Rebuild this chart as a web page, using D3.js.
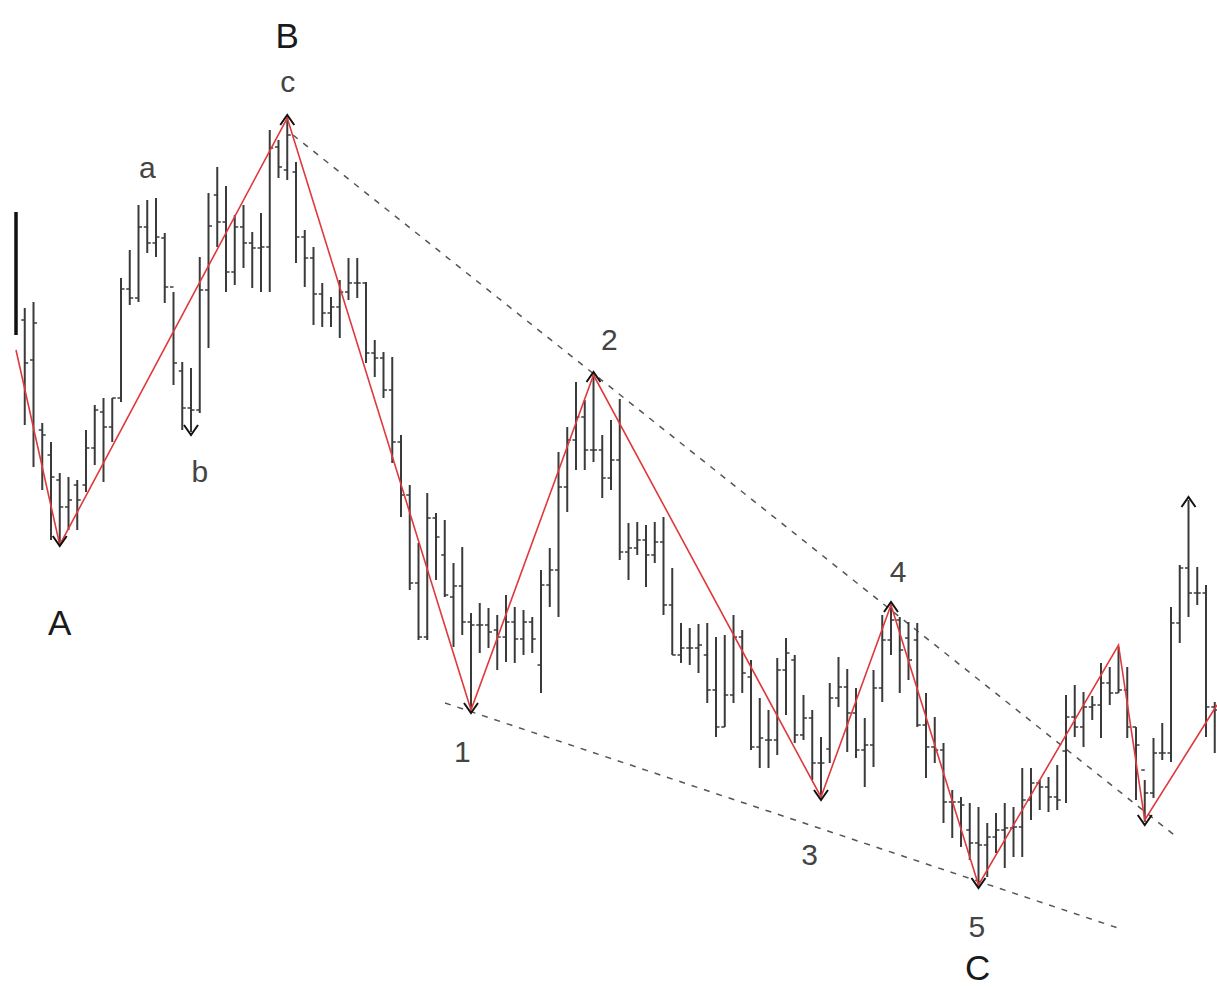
<!DOCTYPE html>
<html>
<head>
<meta charset="utf-8">
<script src="https://cdn.jsdelivr.net/npm/d3@7"></script>
<style>
  html, body { margin: 0; padding: 0; background: #fff; }
  svg { display: block; }
</style>
</head>
<body>
<div id="chart"></div>
<script>
// ---- Data (price units) ----
const barIndex = d3.range(138);

const highs = [
  78.8, 69.2, 69.8, 57.7, 55.8, 52.7, 52.3, 52.0, 57.0, 59.5,
  60.2, 60.2, 72.2, 75.0, 79.5, 80.0, 80.2, 76.7, 70.8, 63.8,
  63.2, 74.3, 80.7, 83.3, 81.4, 78.5, 79.5, 76.8, 78.7, 87.0,
  86.0, 88.2, 83.8, 77.0, 75.3, 71.7, 70.3, 72.0, 74.2, 74.2,
  71.8, 66.0, 64.8, 64.3, 56.5, 51.5, 45.7, 50.7, 48.7, 48.0,
  43.7, 45.3, 38.7, 39.7, 39.2, 38.5, 40.5, 39.3, 39.0, 38.3,
  43.0, 45.2, 54.8, 57.3, 61.8, 60.0, 62.5, 56.5, 58.0, 60.1,
  47.7, 47.8, 47.5, 47.8, 48.3, 43.2, 37.7, 37.2, 37.6, 37.7,
  36.3, 36.5, 38.5, 37.0, 34.0, 30.2, 29.0, 34.2, 36.2, 34.5,
  30.5, 29.0, 26.3, 31.7, 34.3, 33.1, 31.2, 28.2, 33.0, 38.5,
  39.5, 38.3, 37.8, 37.7, 30.7, 28.3, 25.7, 21.0, 20.3, 19.7,
  19.3, 17.7, 18.7, 19.7, 19.3, 23.2, 23.2, 22.0, 22.3, 23.5,
  30.5, 31.5, 30.8, 30.4, 33.7, 33.3, 35.3, 33.3, 27.3, 22.0,
  26.2, 27.7, 39.3, 43.5, 50.0, 43.3, 41.5, 29.8
];

const lows = [
  66.5, 57.5, 53.3, 51.0, 46.0, 45.7, 47.0, 47.0, 50.8, 53.5,
  51.8, 55.8, 59.8, 69.5, 69.8, 74.7, 74.3, 69.7, 61.5, 57.0,
  56.8, 58.7, 65.2, 75.3, 70.8, 71.5, 73.2, 71.2, 70.8, 70.8,
  82.2, 82.0, 73.7, 71.3, 67.5, 67.3, 67.3, 66.2, 70.0, 70.2,
  63.7, 62.3, 60.2, 53.7, 48.3, 41.0, 36.0, 36.0, 42.0, 40.3,
  35.3, 36.5, 29.0, 34.7, 35.2, 33.0, 33.8, 33.7, 34.5, 34.7,
  30.7, 39.3, 38.3, 48.8, 53.0, 53.0, 53.8, 50.2, 51.0, 44.0,
  42.0, 44.5, 41.3, 43.7, 38.5, 34.5, 33.7, 33.5, 32.7, 29.7,
  26.3, 27.3, 29.7, 30.7, 25.0, 23.2, 23.2, 24.5, 28.5, 25.7,
  26.0, 22.0, 20.3, 23.7, 29.3, 24.8, 24.2, 21.3, 23.3, 29.8,
  34.5, 30.7, 32.0, 27.3, 22.2, 23.7, 17.7, 16.2, 15.3, 14.0,
  11.5, 12.3, 14.7, 13.2, 14.3, 14.3, 18.0, 19.0, 18.8, 19.0,
  19.7, 26.3, 25.3, 28.0, 26.2, 29.5, 30.7, 26.2, 20.0, 17.8,
  20.2, 24.0, 23.8, 35.7, 38.3, 39.5, 26.3, 24.7
];

const opens = [
  78.8, 68.0, 64.0, 57.0, 54.5, 52.0, 49.3, 51.5, 51.5, 55.2,
  58.8, 57.3, 60.2, 71.1, 70.2, 77.3, 75.7, 76.2, 71.3, 62.9,
  59.2, 59.0, 71.0, 80.5, 77.8, 72.8, 77.3, 75.7, 75.2, 75.3,
  85.3, 83.0, 82.8, 76.3, 74.2, 70.6, 68.7, 69.3, 70.8, 71.7,
  71.7, 64.7, 64.2, 61.0, 55.8, 50.5, 41.7, 36.3, 48.2, 44.5,
  40.3, 41.4, 37.8, 37.5, 37.5, 37.0, 36.3, 37.8, 36.1, 37.8,
  33.5, 41.5, 43.0, 51.3, 56.0, 58.3, 55.0, 55.0, 52.2, 54.0,
  44.8, 45.2, 46.0, 44.5, 45.8, 39.5, 34.5, 35.2, 35.2, 34.5,
  31.0, 27.3, 30.5, 36.3, 32.3, 25.3, 26.0, 26.0, 33.0, 34.0,
  26.5, 28.2, 23.7, 25.1, 30.2, 31.3, 28.7, 25.0, 25.5, 31.2,
  36.0, 38.0, 36.2, 36.0, 27.5, 25.3, 25.0, 19.8, 19.8, 17.0,
  15.7, 15.5, 16.3, 17.0, 17.2, 17.3, 20.0, 21.7, 21.3, 20.3,
  24.9, 28.3, 27.3, 29.3, 29.5, 31.7, 30.7, 31.0, 27.3, 23.0,
  20.7, 24.7, 24.7, 37.7, 43.2, 40.7, 40.7, 29.3
];

const closes = [
  68.0, 63.7, 67.7, 56.5, 52.3, 49.3, 50.0, 50.0, 55.2, 59.0,
  57.3, 60.2, 71.1, 70.2, 77.3, 75.7, 76.3, 71.3, 63.7, 59.2,
  59.0, 71.0, 77.4, 77.8, 72.8, 77.3, 75.7, 75.2, 75.3, 85.2,
  83.3, 86.5, 76.3, 74.2, 70.6, 68.7, 69.3, 70.8, 71.7, 71.7,
  64.7, 64.2, 61.0, 55.8, 50.5, 41.7, 36.3, 48.2, 46.3, 40.5,
  41.4, 37.8, 37.5, 37.5, 36.8, 36.3, 37.8, 36.1, 37.8, 36.1,
  41.5, 43.0, 51.3, 56.0, 58.3, 55.0, 55.0, 52.2, 54.0, 44.8,
  45.2, 46.0, 44.5, 45.8, 39.5, 34.5, 35.2, 35.2, 35.5, 31.0,
  27.3, 30.5, 36.3, 32.7, 25.3, 26.2, 26.0, 33.0, 34.7, 26.5,
  28.2, 23.7, 23.7, 30.2, 31.3, 28.7, 25.0, 25.5, 31.2, 36.0,
  38.0, 35.0, 34.0, 27.5, 25.3, 25.0, 19.8, 19.8, 19.5, 15.7,
  15.5, 16.3, 17.0, 17.2, 17.3, 20.0, 21.7, 21.3, 20.3, 20.0,
  28.3, 27.3, 29.3, 29.5, 31.7, 30.7, 31.0, 27.3, 25.5, 20.7,
  24.7, 24.7, 37.7, 43.2, 40.7, 40.7, 29.3, 29.0
];

// zigzag pivots (bar index, price)
const zigzagIdx = [0, 5, 31, 52, 66, 92, 100, 110, 126, 129, 137.25];
const zigzagVal = [65.0, 45.5, 88.2, 29.0, 62.5, 20.3, 39.5, 11.5, 35.5, 18.0, 29.5];

// pivot arrows
const lowArrowIdx = [5, 20, 52, 92, 110, 129];
const highArrowIdx = [31, 66, 100, 134];

// trend (channel) lines: [startIdx, startVal, endIdx, endVal]
const upperLine = [31.66, 86.5, 132.8, 16.2];
const lowerLine = [49.03, 29.7, 125.94, 7.2];

// wave labels
const labelText  = ["B", "c", "a", "b", "A", "1", "2", "3", "4", "5", "C"];
const labelIdx   = [31, 31.05, 15, 21, 5, 51, 67.8, 90.7, 100.8, 109.8, 109.9];
const labelVal   = [95.2, 90.8, 82.2, 51.8, 36.5, 23.8, 65.0, 13.5, 41.8, 6.3, 2.0];
const labelKind  = ["major", "minor", "minor", "minor", "major", "num", "num", "num", "num", "num", "major"];

// ---- Drawing ----
const W = 1217, H = 987;
const svg = d3.select("#chart").append("svg").attr("width", W).attr("height", H);

const x = d3.scaleLinear().domain([0, 137]).range([16, 1214.75]);
const y = d3.scaleLinear().domain([0, 100]).range([1000, 0]);

const bars = barIndex.map(i => ({i, h: highs[i], l: lows[i], o: opens[i], c: closes[i]}));

// dashed channel lines
const dashColor = "#555";
[upperLine, lowerLine].forEach(L => {
  svg.append("line")
    .attr("x1", x(L[0])).attr("y1", y(L[1]))
    .attr("x2", x(L[2])).attr("y2", y(L[3]))
    .attr("stroke", dashColor).attr("stroke-width", 1.5)
    .attr("stroke-dasharray", "6,7");
});

// OHLC bars
const g = svg.append("g").attr("stroke", "#3a3a3a").attr("stroke-width", 2);
const bg = g.selectAll("g.bar").data(bars).join("g").attr("class", "bar");
bg.append("line")
  .attr("x1", d => x(d.i)).attr("x2", d => x(d.i))
  .attr("y1", d => y(d.h)).attr("y2", d => y(d.l))
  .attr("stroke-width", d => d.i === 0 ? 3.5 : 2)
  .attr("stroke", d => d.i === 0 ? "#111" : null);
bg.filter(d => d.i !== 0).append("line")
  .attr("x1", d => x(d.i) - 3.5).attr("x2", d => x(d.i))
  .attr("y1", d => y(d.o)).attr("y2", d => y(d.o))
  .attr("stroke-width", 1.5);
bg.filter(d => d.i !== 0).append("line")
  .attr("x1", d => x(d.i)).attr("x2", d => x(d.i) + 3.5)
  .attr("y1", d => y(d.c)).attr("y2", d => y(d.c))
  .attr("stroke-width", 1.5);

// zigzag line
const zz = zigzagIdx.map((v, k) => [x(v), y(zigzagVal[k])]);
svg.append("path")
  .attr("d", d3.line()(zz))
  .attr("fill", "none")
  .attr("stroke", "#e0393b")
  .attr("stroke-width", 1.6)
  .attr("stroke-linejoin", "miter");

// pivot arrows
const ag = svg.append("g").attr("fill", "none").attr("stroke", "#111").attr("stroke-width", 2);
lowArrowIdx.forEach(i => {
  const cx = x(i), cy = y(lows[i]) + 3;
  ag.append("path").attr("d", `M${cx - 7},${cy - 10} L${cx},${cy} L${cx + 7},${cy - 10}`);
});
highArrowIdx.forEach(i => {
  const cx = x(i), cy = y(highs[i]) - 3;
  ag.append("path").attr("d", `M${cx - 7},${cy + 10} L${cx},${cy} L${cx + 7},${cy + 10}`);
});

// labels
const fontFor = {major: 35, minor: 30, num: 30};
const colorFor = {major: "#1a1a1a", minor: "#444", num: "#444"};
labelText.forEach((t, k) => {
  svg.append("text")
    .attr("x", x(labelIdx[k]))
    .attr("y", y(labelVal[k]))
    .attr("text-anchor", "middle")
    .attr("font-family", "Liberation Sans, Arial, sans-serif")
    .attr("font-size", fontFor[labelKind[k]])
    .attr("fill", colorFor[labelKind[k]])
    .text(t);
});
</script>
</body>
</html>
